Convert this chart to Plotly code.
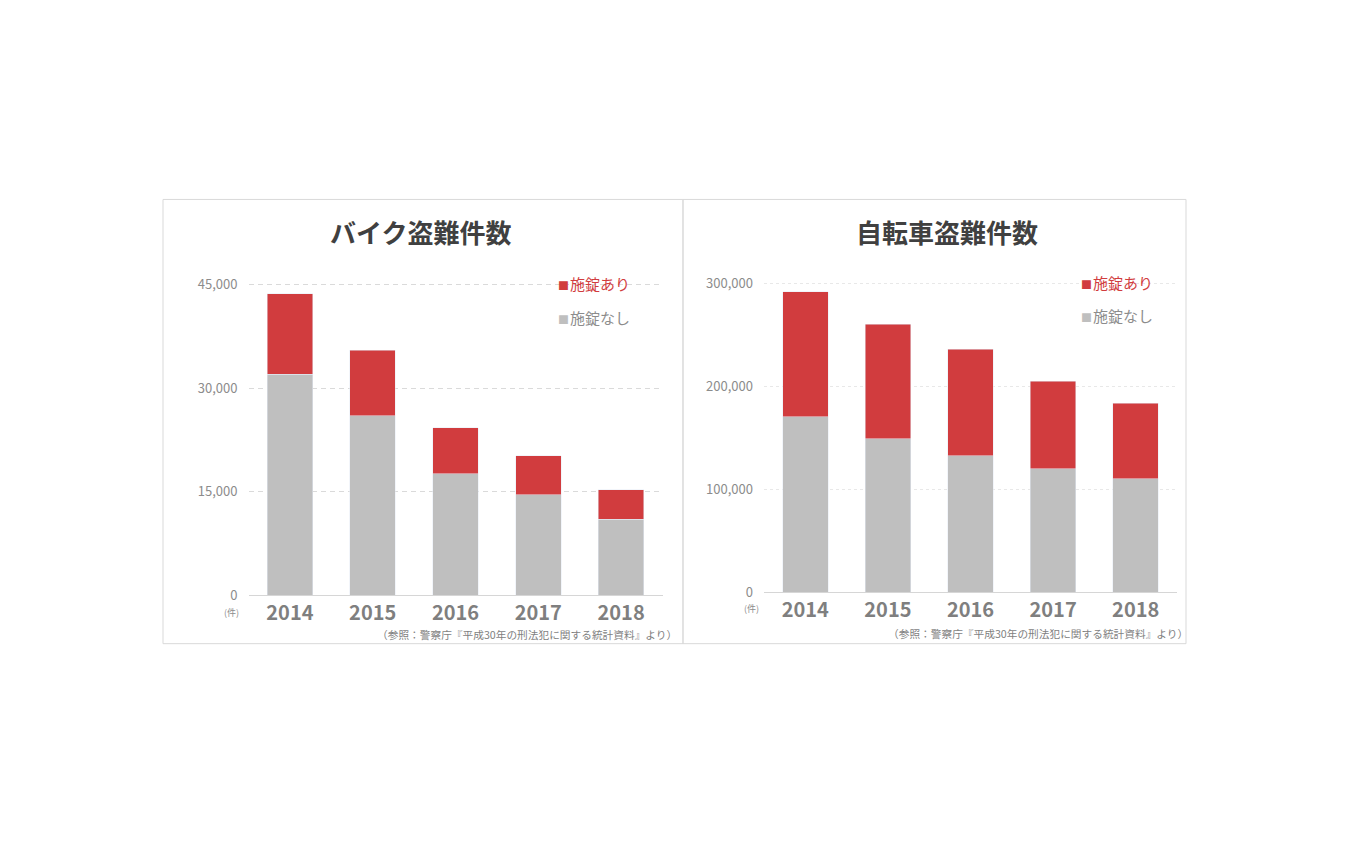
import plotly.graph_objects as go

years = ["2014", "2015", "2016", "2017", "2018"]
bike_unlocked = [32040, 26070, 17620, 14560, 11070]   # 施錠なし
bike_locked = [11650, 9460, 6700, 5680, 4220]         # 施錠あり
cycle_unlocked = [171000, 149500, 132900, 120200, 110400]
cycle_locked = [121200, 111400, 103600, 85000, 73300]

bike_ticks = [0, 15000, 30000, 45000]
cycle_ticks = [0, 100000, 200000, 300000]

RED = "#d13c3e"
GRAY = "#bfbfbf"
TXT_GRAY = "#8c8c8c"
FONT = "Noto Sans CJK JP"
W, H = 1350, 844

# empirical correction of vertical placement in the rendered page
S, O = 0.9773, 7.52


def px(x):
    return x / W


def py(y):
    return 1 - ((y - O) / S) / H


fig = go.Figure()
fig.add_trace(go.Bar(x=years, y=bike_unlocked, marker_color=GRAY, name="施錠なし",
                     xaxis="x", yaxis="y", showlegend=False))
fig.add_trace(go.Bar(x=years, y=bike_locked, marker_color=RED, name="施錠あり",
                     xaxis="x", yaxis="y", showlegend=False))
fig.add_trace(go.Bar(x=years, y=cycle_unlocked, marker_color=GRAY, name="施錠なし",
                     xaxis="x2", yaxis="y2", showlegend=False))
fig.add_trace(go.Bar(x=years, y=cycle_locked, marker_color=RED, name="施錠あり",
                     xaxis="x2", yaxis="y2", showlegend=False))

xcommon = dict(type="category", showgrid=False, zeroline=False, showline=True,
               linecolor="#d6d6d6", linewidth=1, ticks="",
               tickfont=dict(family=FONT, size=20, color="#7f7f7f", weight="bold"))
ycommon = dict(showgrid=True, zeroline=False, showline=False, ticks="",
               tickformat=",", ticklabelstandoff=10,
               tickfont=dict(family=FONT, size=13, color=TXT_GRAY))

# left: 0 at y=594, 45,000 at y=285 ; range extended slightly so top grid shows
l_top_val = 45600
l_top_px = 594 - (594 - 285) * l_top_val / 45000
r_top_val = 304000
r_top_px = 591 - (591 - 284) * r_top_val / 300000

fig.update_layout(
    width=W, height=H,
    margin=dict(l=0, r=0, t=0, b=0),
    paper_bgcolor="white", plot_bgcolor="rgba(0,0,0,0)",
    barmode="stack", bargap=0.45,
    font=dict(family=FONT),
    xaxis=dict(domain=[px(248.5), px(662.5)], anchor="y", **xcommon),
    yaxis=dict(domain=[py(594), py(l_top_px)], anchor="x", range=[0, l_top_val],
               tickvals=bike_ticks, gridcolor="#dadada", griddash="5px,4px", **ycommon),
    xaxis2=dict(domain=[px(764), px(1177)], anchor="y2", **xcommon),
    yaxis2=dict(domain=[py(591), py(r_top_px)], anchor="x2", range=[0, r_top_val],
                tickvals=cycle_ticks, gridcolor="#e8e8e8", griddash="dot", **ycommon),
)

shapes = [
    dict(type="rect", xref="paper", yref="paper", x0=px(163), x1=px(683), y0=py(642), y1=py(200),
         line=dict(color="#d9d9d9", width=1), fillcolor="rgba(0,0,0,0)", layer="below"),
    dict(type="rect", xref="paper", yref="paper", x0=px(683), x1=px(1186), y0=py(642), y1=py(200),
         line=dict(color="#d9d9d9", width=1), fillcolor="rgba(0,0,0,0)", layer="below"),
]
fig.update_layout(shapes=shapes)


def ann(x, y, text, size, color, xanchor="center", bold=False):
    return dict(xref="paper", yref="paper", x=px(x), y=py(y), text=text, showarrow=False,
                xanchor=xanchor, yanchor="middle",
                font=dict(family=FONT, size=size, color=color, weight="bold" if bold else "normal"))


def legend_text(label, sq_color):
    return (f"<span style='font-size:11px;color:{sq_color}'>■</span>"
            f"<span style='font-size:4px'> </span>{label}")


note = "（参照：警察庁『平成30年の刑法犯に関する統計資料』より）"
annotations = [
    ann(420, 232, "バイク盗難件数", 26, "#404040", bold=True),
    ann(947, 232, "自転車盗難件数", 26, "#404040", bold=True),
    ann(556, 284, legend_text("施錠あり", RED), 15, RED, xanchor="left"),
    ann(556, 317, legend_text("施錠なし", GRAY), 15, TXT_GRAY, xanchor="left"),
    ann(1079, 283, legend_text("施錠あり", RED), 15, RED, xanchor="left"),
    ann(1079, 315, legend_text("施錠なし", GRAY), 15, TXT_GRAY, xanchor="left"),
    ann(679, 633, note, 10.7, "#7f7f7f", xanchor="right"),
    ann(1190, 632, note, 10.7, "#7f7f7f", xanchor="right"),
    ann(231, 611, "(件)", 9, TXT_GRAY),
    ann(751, 607, "(件)", 9, TXT_GRAY),
]
fig.update_layout(annotations=annotations)

fig.write_html("out.html")
